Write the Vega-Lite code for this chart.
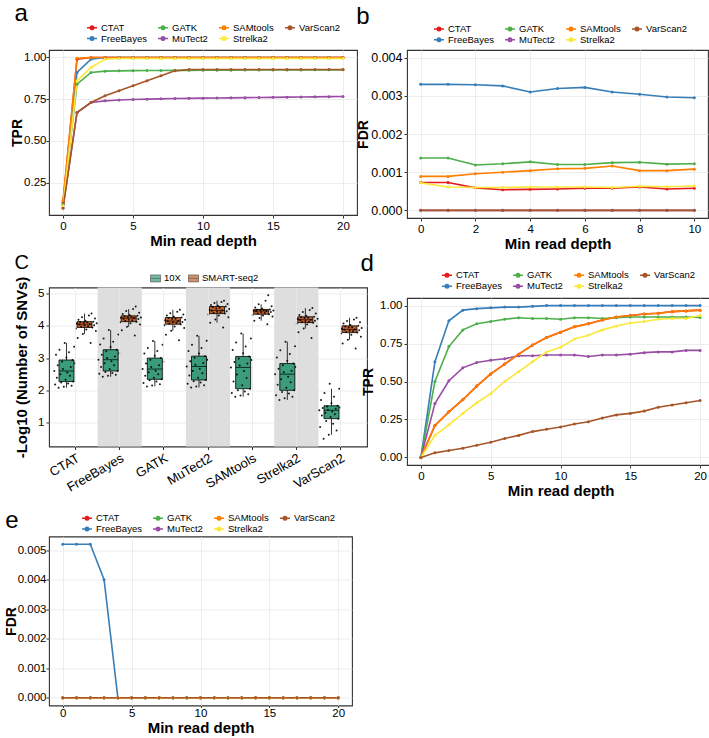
{
"$schema": "https://vega.github.io/schema/vega-lite/v6.json",
"padding": {"left": 3, "top": 1, "right": 0, "bottom": 0},
"config": {
  "font": "Liberation Sans",
  "view": {"stroke": "#333333", "strokeWidth": 1.1},
  "axis": {"domain": false, "grid": true, "gridColor": "#e8e8e8", "gridWidth": 0.8, "tickColor": "#333333", "tickSize": 3, "labelColor": "#000000", "labelFontSize": 11.5, "labelFont": "Liberation Sans", "titleFont": "Liberation Sans", "titleFontWeight": "bold", "titleColor": "#000000", "labelPadding": 2, "titlePadding": 3},
  "axisX": {"titleFontSize": 15, "titlePadding": 2},
  "axisY": {"titleFontSize": 14},
  "legend": {"labelFontSize": 9.5, "labelColor": "#000000", "labelFont": "Liberation Sans"},
  "title": {"fontWeight": "normal", "color": "#000000", "anchor": "start", "fontSize": 24, "font": "Liberation Sans"}
},
"datasets": {
"tprA": [
{"tool":"CTAT","d":0,"v":0.13},{"tool":"CTAT","d":1,"v":0.99},{"tool":"CTAT","d":2,"v":1},{"tool":"CTAT","d":3,"v":1},{"tool":"CTAT","d":4,"v":1},{"tool":"CTAT","d":5,"v":1},{"tool":"CTAT","d":6,"v":1},{"tool":"CTAT","d":7,"v":1},{"tool":"CTAT","d":8,"v":1},{"tool":"CTAT","d":9,"v":1},{"tool":"CTAT","d":10,"v":1},{"tool":"CTAT","d":11,"v":1},{"tool":"CTAT","d":12,"v":1},{"tool":"CTAT","d":13,"v":1},{"tool":"CTAT","d":14,"v":1},{"tool":"CTAT","d":15,"v":1},{"tool":"CTAT","d":16,"v":1},{"tool":"CTAT","d":17,"v":1},{"tool":"CTAT","d":18,"v":1},{"tool":"CTAT","d":19,"v":1},{"tool":"CTAT","d":20,"v":1},
{"tool":"FreeBayes","d":0,"v":0.12},{"tool":"FreeBayes","d":1,"v":0.91},{"tool":"FreeBayes","d":2,"v":0.99},{"tool":"FreeBayes","d":3,"v":1},{"tool":"FreeBayes","d":4,"v":1},{"tool":"FreeBayes","d":5,"v":1},{"tool":"FreeBayes","d":6,"v":1},{"tool":"FreeBayes","d":7,"v":1},{"tool":"FreeBayes","d":8,"v":1},{"tool":"FreeBayes","d":9,"v":1},{"tool":"FreeBayes","d":10,"v":1},{"tool":"FreeBayes","d":11,"v":1},{"tool":"FreeBayes","d":12,"v":1},{"tool":"FreeBayes","d":13,"v":1},{"tool":"FreeBayes","d":14,"v":1},{"tool":"FreeBayes","d":15,"v":1},{"tool":"FreeBayes","d":16,"v":1},{"tool":"FreeBayes","d":17,"v":1},{"tool":"FreeBayes","d":18,"v":1},{"tool":"FreeBayes","d":19,"v":1},{"tool":"FreeBayes","d":20,"v":1},
{"tool":"GATK","d":0,"v":0.12},{"tool":"GATK","d":1,"v":0.84},{"tool":"GATK","d":2,"v":0.91},{"tool":"GATK","d":3,"v":0.918},{"tool":"GATK","d":4,"v":0.92},{"tool":"GATK","d":5,"v":0.921},{"tool":"GATK","d":6,"v":0.922},{"tool":"GATK","d":7,"v":0.922},{"tool":"GATK","d":8,"v":0.923},{"tool":"GATK","d":9,"v":0.923},{"tool":"GATK","d":10,"v":0.924},{"tool":"GATK","d":11,"v":0.924},{"tool":"GATK","d":12,"v":0.924},{"tool":"GATK","d":13,"v":0.925},{"tool":"GATK","d":14,"v":0.925},{"tool":"GATK","d":15,"v":0.925},{"tool":"GATK","d":16,"v":0.925},{"tool":"GATK","d":17,"v":0.925},{"tool":"GATK","d":18,"v":0.926},{"tool":"GATK","d":19,"v":0.926},{"tool":"GATK","d":20,"v":0.926},
{"tool":"MuTect2","d":0,"v":0.10},{"tool":"MuTect2","d":1,"v":0.67},{"tool":"MuTect2","d":2,"v":0.73},{"tool":"MuTect2","d":3,"v":0.74},{"tool":"MuTect2","d":4,"v":0.745},{"tool":"MuTect2","d":5,"v":0.748},{"tool":"MuTect2","d":6,"v":0.75},{"tool":"MuTect2","d":7,"v":0.752},{"tool":"MuTect2","d":8,"v":0.754},{"tool":"MuTect2","d":9,"v":0.755},{"tool":"MuTect2","d":10,"v":0.756},{"tool":"MuTect2","d":11,"v":0.757},{"tool":"MuTect2","d":12,"v":0.758},{"tool":"MuTect2","d":13,"v":0.759},{"tool":"MuTect2","d":14,"v":0.76},{"tool":"MuTect2","d":15,"v":0.761},{"tool":"MuTect2","d":16,"v":0.762},{"tool":"MuTect2","d":17,"v":0.763},{"tool":"MuTect2","d":18,"v":0.764},{"tool":"MuTect2","d":19,"v":0.765},{"tool":"MuTect2","d":20,"v":0.766},
{"tool":"SAMtools","d":0,"v":0.14},{"tool":"SAMtools","d":1,"v":0.995},{"tool":"SAMtools","d":2,"v":1},{"tool":"SAMtools","d":3,"v":1},{"tool":"SAMtools","d":4,"v":1},{"tool":"SAMtools","d":5,"v":1},{"tool":"SAMtools","d":6,"v":1},{"tool":"SAMtools","d":7,"v":1},{"tool":"SAMtools","d":8,"v":1},{"tool":"SAMtools","d":9,"v":1},{"tool":"SAMtools","d":10,"v":1},{"tool":"SAMtools","d":11,"v":1},{"tool":"SAMtools","d":12,"v":1},{"tool":"SAMtools","d":13,"v":1},{"tool":"SAMtools","d":14,"v":1},{"tool":"SAMtools","d":15,"v":1},{"tool":"SAMtools","d":16,"v":1},{"tool":"SAMtools","d":17,"v":1},{"tool":"SAMtools","d":18,"v":1},{"tool":"SAMtools","d":19,"v":1},{"tool":"SAMtools","d":20,"v":1},
{"tool":"Strelka2","d":0,"v":0.11},{"tool":"Strelka2","d":1,"v":0.86},{"tool":"Strelka2","d":2,"v":0.94},{"tool":"Strelka2","d":3,"v":0.99},{"tool":"Strelka2","d":4,"v":0.994},{"tool":"Strelka2","d":5,"v":0.994},{"tool":"Strelka2","d":6,"v":0.994},{"tool":"Strelka2","d":7,"v":0.994},{"tool":"Strelka2","d":8,"v":0.994},{"tool":"Strelka2","d":9,"v":0.994},{"tool":"Strelka2","d":10,"v":0.994},{"tool":"Strelka2","d":11,"v":0.994},{"tool":"Strelka2","d":12,"v":0.994},{"tool":"Strelka2","d":13,"v":0.994},{"tool":"Strelka2","d":14,"v":0.994},{"tool":"Strelka2","d":15,"v":0.994},{"tool":"Strelka2","d":16,"v":0.994},{"tool":"Strelka2","d":17,"v":0.994},{"tool":"Strelka2","d":18,"v":0.994},{"tool":"Strelka2","d":19,"v":0.994},{"tool":"Strelka2","d":20,"v":0.994},
{"tool":"VarScan2","d":0,"v":0.095},{"tool":"VarScan2","d":1,"v":0.67},{"tool":"VarScan2","d":2,"v":0.73},{"tool":"VarScan2","d":3,"v":0.77},{"tool":"VarScan2","d":4,"v":0.80},{"tool":"VarScan2","d":5,"v":0.83},{"tool":"VarScan2","d":6,"v":0.86},{"tool":"VarScan2","d":7,"v":0.89},{"tool":"VarScan2","d":8,"v":0.92},{"tool":"VarScan2","d":9,"v":0.928},{"tool":"VarScan2","d":10,"v":0.928},{"tool":"VarScan2","d":11,"v":0.928},{"tool":"VarScan2","d":12,"v":0.928},{"tool":"VarScan2","d":13,"v":0.928},{"tool":"VarScan2","d":14,"v":0.928},{"tool":"VarScan2","d":15,"v":0.928},{"tool":"VarScan2","d":16,"v":0.928},{"tool":"VarScan2","d":17,"v":0.928},{"tool":"VarScan2","d":18,"v":0.928},{"tool":"VarScan2","d":19,"v":0.928},{"tool":"VarScan2","d":20,"v":0.928}
],
"fdrB": [
{"tool":"CTAT","d":0,"v":0.00073},{"tool":"CTAT","d":1,"v":0.00073},{"tool":"CTAT","d":2,"v":0.00059},{"tool":"CTAT","d":3,"v":0.00054},{"tool":"CTAT","d":4,"v":0.00055},{"tool":"CTAT","d":5,"v":0.00056},{"tool":"CTAT","d":6,"v":0.00058},{"tool":"CTAT","d":7,"v":0.00058},{"tool":"CTAT","d":8,"v":0.00061},{"tool":"CTAT","d":9,"v":0.00056},{"tool":"CTAT","d":10,"v":0.00058},
{"tool":"FreeBayes","d":0,"v":0.0033},{"tool":"FreeBayes","d":1,"v":0.0033},{"tool":"FreeBayes","d":2,"v":0.00329},{"tool":"FreeBayes","d":3,"v":0.00326},{"tool":"FreeBayes","d":4,"v":0.0031},{"tool":"FreeBayes","d":5,"v":0.00319},{"tool":"FreeBayes","d":6,"v":0.00322},{"tool":"FreeBayes","d":7,"v":0.0031},{"tool":"FreeBayes","d":8,"v":0.00304},{"tool":"FreeBayes","d":9,"v":0.00297},{"tool":"FreeBayes","d":10,"v":0.00295},
{"tool":"GATK","d":0,"v":0.00137},{"tool":"GATK","d":1,"v":0.00137},{"tool":"GATK","d":2,"v":0.00119},{"tool":"GATK","d":3,"v":0.00122},{"tool":"GATK","d":4,"v":0.00127},{"tool":"GATK","d":5,"v":0.0012},{"tool":"GATK","d":6,"v":0.0012},{"tool":"GATK","d":7,"v":0.00125},{"tool":"GATK","d":8,"v":0.00126},{"tool":"GATK","d":9,"v":0.00121},{"tool":"GATK","d":10,"v":0.00122},
{"tool":"MuTect2","d":0,"v":0},{"tool":"MuTect2","d":1,"v":0},{"tool":"MuTect2","d":2,"v":0},{"tool":"MuTect2","d":3,"v":0},{"tool":"MuTect2","d":4,"v":0},{"tool":"MuTect2","d":5,"v":0},{"tool":"MuTect2","d":6,"v":0},{"tool":"MuTect2","d":7,"v":0},{"tool":"MuTect2","d":8,"v":0},{"tool":"MuTect2","d":9,"v":0},{"tool":"MuTect2","d":10,"v":0},
{"tool":"SAMtools","d":0,"v":0.00089},{"tool":"SAMtools","d":1,"v":0.00089},{"tool":"SAMtools","d":2,"v":0.00096},{"tool":"SAMtools","d":3,"v":0.001},{"tool":"SAMtools","d":4,"v":0.00104},{"tool":"SAMtools","d":5,"v":0.00109},{"tool":"SAMtools","d":6,"v":0.0011},{"tool":"SAMtools","d":7,"v":0.00116},{"tool":"SAMtools","d":8,"v":0.00104},{"tool":"SAMtools","d":9,"v":0.00104},{"tool":"SAMtools","d":10,"v":0.00108},
{"tool":"Strelka2","d":0,"v":0.00072},{"tool":"Strelka2","d":1,"v":0.00061},{"tool":"Strelka2","d":2,"v":0.0006},{"tool":"Strelka2","d":3,"v":0.0006},{"tool":"Strelka2","d":4,"v":0.00061},{"tool":"Strelka2","d":5,"v":0.00061},{"tool":"Strelka2","d":6,"v":0.00061},{"tool":"Strelka2","d":7,"v":0.0006},{"tool":"Strelka2","d":8,"v":0.00063},{"tool":"Strelka2","d":9,"v":0.00062},{"tool":"Strelka2","d":10,"v":0.00064},
{"tool":"VarScan2","d":0,"v":0},{"tool":"VarScan2","d":1,"v":0},{"tool":"VarScan2","d":2,"v":0},{"tool":"VarScan2","d":3,"v":0},{"tool":"VarScan2","d":4,"v":0},{"tool":"VarScan2","d":5,"v":0},{"tool":"VarScan2","d":6,"v":0},{"tool":"VarScan2","d":7,"v":0},{"tool":"VarScan2","d":8,"v":0},{"tool":"VarScan2","d":9,"v":0},{"tool":"VarScan2","d":10,"v":0}
],
"tprD": [
{"tool":"CTAT","d":0,"v":0},{"tool":"CTAT","d":1,"v":0.21},{"tool":"CTAT","d":2,"v":0.3},{"tool":"CTAT","d":3,"v":0.38},{"tool":"CTAT","d":4,"v":0.47},{"tool":"CTAT","d":5,"v":0.55},{"tool":"CTAT","d":6,"v":0.615},{"tool":"CTAT","d":7,"v":0.68},{"tool":"CTAT","d":8,"v":0.74},{"tool":"CTAT","d":9,"v":0.79},{"tool":"CTAT","d":10,"v":0.825},{"tool":"CTAT","d":11,"v":0.86},{"tool":"CTAT","d":12,"v":0.88},{"tool":"CTAT","d":13,"v":0.905},{"tool":"CTAT","d":14,"v":0.925},{"tool":"CTAT","d":15,"v":0.935},{"tool":"CTAT","d":16,"v":0.945},{"tool":"CTAT","d":17,"v":0.95},{"tool":"CTAT","d":18,"v":0.96},{"tool":"CTAT","d":19,"v":0.965},{"tool":"CTAT","d":20,"v":0.97},
{"tool":"FreeBayes","d":0,"v":0},{"tool":"FreeBayes","d":1,"v":0.63},{"tool":"FreeBayes","d":2,"v":0.9},{"tool":"FreeBayes","d":3,"v":0.97},{"tool":"FreeBayes","d":4,"v":0.98},{"tool":"FreeBayes","d":5,"v":0.985},{"tool":"FreeBayes","d":6,"v":0.99},{"tool":"FreeBayes","d":7,"v":0.99},{"tool":"FreeBayes","d":8,"v":0.995},{"tool":"FreeBayes","d":9,"v":1},{"tool":"FreeBayes","d":10,"v":1},{"tool":"FreeBayes","d":11,"v":1},{"tool":"FreeBayes","d":12,"v":1},{"tool":"FreeBayes","d":13,"v":1},{"tool":"FreeBayes","d":14,"v":1},{"tool":"FreeBayes","d":15,"v":1},{"tool":"FreeBayes","d":16,"v":1},{"tool":"FreeBayes","d":17,"v":1},{"tool":"FreeBayes","d":18,"v":1},{"tool":"FreeBayes","d":19,"v":1},{"tool":"FreeBayes","d":20,"v":1},
{"tool":"GATK","d":0,"v":0},{"tool":"GATK","d":1,"v":0.5},{"tool":"GATK","d":2,"v":0.73},{"tool":"GATK","d":3,"v":0.84},{"tool":"GATK","d":4,"v":0.88},{"tool":"GATK","d":5,"v":0.895},{"tool":"GATK","d":6,"v":0.91},{"tool":"GATK","d":7,"v":0.92},{"tool":"GATK","d":8,"v":0.915},{"tool":"GATK","d":9,"v":0.915},{"tool":"GATK","d":10,"v":0.91},{"tool":"GATK","d":11,"v":0.92},{"tool":"GATK","d":12,"v":0.92},{"tool":"GATK","d":13,"v":0.915},{"tool":"GATK","d":14,"v":0.92},{"tool":"GATK","d":15,"v":0.925},{"tool":"GATK","d":16,"v":0.925},{"tool":"GATK","d":17,"v":0.925},{"tool":"GATK","d":18,"v":0.925},{"tool":"GATK","d":19,"v":0.925},{"tool":"GATK","d":20,"v":0.922},
{"tool":"MuTect2","d":0,"v":0},{"tool":"MuTect2","d":1,"v":0.355},{"tool":"MuTect2","d":2,"v":0.505},{"tool":"MuTect2","d":3,"v":0.59},{"tool":"MuTect2","d":4,"v":0.625},{"tool":"MuTect2","d":5,"v":0.64},{"tool":"MuTect2","d":6,"v":0.65},{"tool":"MuTect2","d":7,"v":0.67},{"tool":"MuTect2","d":8,"v":0.67},{"tool":"MuTect2","d":9,"v":0.675},{"tool":"MuTect2","d":10,"v":0.675},{"tool":"MuTect2","d":11,"v":0.675},{"tool":"MuTect2","d":12,"v":0.665},{"tool":"MuTect2","d":13,"v":0.675},{"tool":"MuTect2","d":14,"v":0.675},{"tool":"MuTect2","d":15,"v":0.68},{"tool":"MuTect2","d":16,"v":0.69},{"tool":"MuTect2","d":17,"v":0.695},{"tool":"MuTect2","d":18,"v":0.695},{"tool":"MuTect2","d":19,"v":0.705},{"tool":"MuTect2","d":20,"v":0.705},
{"tool":"SAMtools","d":0,"v":0},{"tool":"SAMtools","d":1,"v":0.21},{"tool":"SAMtools","d":2,"v":0.3},{"tool":"SAMtools","d":3,"v":0.38},{"tool":"SAMtools","d":4,"v":0.47},{"tool":"SAMtools","d":5,"v":0.55},{"tool":"SAMtools","d":6,"v":0.615},{"tool":"SAMtools","d":7,"v":0.68},{"tool":"SAMtools","d":8,"v":0.74},{"tool":"SAMtools","d":9,"v":0.79},{"tool":"SAMtools","d":10,"v":0.825},{"tool":"SAMtools","d":11,"v":0.86},{"tool":"SAMtools","d":12,"v":0.88},{"tool":"SAMtools","d":13,"v":0.905},{"tool":"SAMtools","d":14,"v":0.925},{"tool":"SAMtools","d":15,"v":0.935},{"tool":"SAMtools","d":16,"v":0.945},{"tool":"SAMtools","d":17,"v":0.95},{"tool":"SAMtools","d":18,"v":0.96},{"tool":"SAMtools","d":19,"v":0.965},{"tool":"SAMtools","d":20,"v":0.97},
{"tool":"Strelka2","d":0,"v":0},{"tool":"Strelka2","d":1,"v":0.145},{"tool":"Strelka2","d":2,"v":0.215},{"tool":"Strelka2","d":3,"v":0.29},{"tool":"Strelka2","d":4,"v":0.36},{"tool":"Strelka2","d":5,"v":0.42},{"tool":"Strelka2","d":6,"v":0.5},{"tool":"Strelka2","d":7,"v":0.565},{"tool":"Strelka2","d":8,"v":0.63},{"tool":"Strelka2","d":9,"v":0.695},{"tool":"Strelka2","d":10,"v":0.725},{"tool":"Strelka2","d":11,"v":0.78},{"tool":"Strelka2","d":12,"v":0.805},{"tool":"Strelka2","d":13,"v":0.84},{"tool":"Strelka2","d":14,"v":0.865},{"tool":"Strelka2","d":15,"v":0.885},{"tool":"Strelka2","d":16,"v":0.895},{"tool":"Strelka2","d":17,"v":0.91},{"tool":"Strelka2","d":18,"v":0.915},{"tool":"Strelka2","d":19,"v":0.915},{"tool":"Strelka2","d":20,"v":0.935},
{"tool":"VarScan2","d":0,"v":0},{"tool":"VarScan2","d":1,"v":0.03},{"tool":"VarScan2","d":2,"v":0.045},{"tool":"VarScan2","d":3,"v":0.06},{"tool":"VarScan2","d":4,"v":0.08},{"tool":"VarScan2","d":5,"v":0.1},{"tool":"VarScan2","d":6,"v":0.125},{"tool":"VarScan2","d":7,"v":0.145},{"tool":"VarScan2","d":8,"v":0.17},{"tool":"VarScan2","d":9,"v":0.185},{"tool":"VarScan2","d":10,"v":0.2},{"tool":"VarScan2","d":11,"v":0.22},{"tool":"VarScan2","d":12,"v":0.235},{"tool":"VarScan2","d":13,"v":0.26},{"tool":"VarScan2","d":14,"v":0.28},{"tool":"VarScan2","d":15,"v":0.29},{"tool":"VarScan2","d":16,"v":0.305},{"tool":"VarScan2","d":17,"v":0.33},{"tool":"VarScan2","d":18,"v":0.345},{"tool":"VarScan2","d":19,"v":0.36},{"tool":"VarScan2","d":20,"v":0.375}
],
"fdrE": [
{"tool":"CTAT","d":0,"v":0},{"tool":"CTAT","d":1,"v":0},{"tool":"CTAT","d":2,"v":0},{"tool":"CTAT","d":3,"v":0},{"tool":"CTAT","d":4,"v":0},{"tool":"CTAT","d":5,"v":0},{"tool":"CTAT","d":6,"v":0},{"tool":"CTAT","d":7,"v":0},{"tool":"CTAT","d":8,"v":0},{"tool":"CTAT","d":9,"v":0},{"tool":"CTAT","d":10,"v":0},{"tool":"CTAT","d":11,"v":0},{"tool":"CTAT","d":12,"v":0},{"tool":"CTAT","d":13,"v":0},{"tool":"CTAT","d":14,"v":0},{"tool":"CTAT","d":15,"v":0},{"tool":"CTAT","d":16,"v":0},{"tool":"CTAT","d":17,"v":0},{"tool":"CTAT","d":18,"v":0},{"tool":"CTAT","d":19,"v":0},{"tool":"CTAT","d":20,"v":0},
{"tool":"FreeBayes","d":0,"v":0.0052},{"tool":"FreeBayes","d":1,"v":0.0052},{"tool":"FreeBayes","d":2,"v":0.0052},{"tool":"FreeBayes","d":3,"v":0.004},{"tool":"FreeBayes","d":4,"v":0},{"tool":"FreeBayes","d":5,"v":0},{"tool":"FreeBayes","d":6,"v":0},{"tool":"FreeBayes","d":7,"v":0},{"tool":"FreeBayes","d":8,"v":0},{"tool":"FreeBayes","d":9,"v":0},{"tool":"FreeBayes","d":10,"v":0},{"tool":"FreeBayes","d":11,"v":0},{"tool":"FreeBayes","d":12,"v":0},{"tool":"FreeBayes","d":13,"v":0},{"tool":"FreeBayes","d":14,"v":0},{"tool":"FreeBayes","d":15,"v":0},{"tool":"FreeBayes","d":16,"v":0},{"tool":"FreeBayes","d":17,"v":0},{"tool":"FreeBayes","d":18,"v":0},{"tool":"FreeBayes","d":19,"v":0},{"tool":"FreeBayes","d":20,"v":0},
{"tool":"GATK","d":0,"v":0},{"tool":"GATK","d":1,"v":0},{"tool":"GATK","d":2,"v":0},{"tool":"GATK","d":3,"v":0},{"tool":"GATK","d":4,"v":0},{"tool":"GATK","d":5,"v":0},{"tool":"GATK","d":6,"v":0},{"tool":"GATK","d":7,"v":0},{"tool":"GATK","d":8,"v":0},{"tool":"GATK","d":9,"v":0},{"tool":"GATK","d":10,"v":0},{"tool":"GATK","d":11,"v":0},{"tool":"GATK","d":12,"v":0},{"tool":"GATK","d":13,"v":0},{"tool":"GATK","d":14,"v":0},{"tool":"GATK","d":15,"v":0},{"tool":"GATK","d":16,"v":0},{"tool":"GATK","d":17,"v":0},{"tool":"GATK","d":18,"v":0},{"tool":"GATK","d":19,"v":0},{"tool":"GATK","d":20,"v":0},
{"tool":"MuTect2","d":0,"v":0},{"tool":"MuTect2","d":1,"v":0},{"tool":"MuTect2","d":2,"v":0},{"tool":"MuTect2","d":3,"v":0},{"tool":"MuTect2","d":4,"v":0},{"tool":"MuTect2","d":5,"v":0},{"tool":"MuTect2","d":6,"v":0},{"tool":"MuTect2","d":7,"v":0},{"tool":"MuTect2","d":8,"v":0},{"tool":"MuTect2","d":9,"v":0},{"tool":"MuTect2","d":10,"v":0},{"tool":"MuTect2","d":11,"v":0},{"tool":"MuTect2","d":12,"v":0},{"tool":"MuTect2","d":13,"v":0},{"tool":"MuTect2","d":14,"v":0},{"tool":"MuTect2","d":15,"v":0},{"tool":"MuTect2","d":16,"v":0},{"tool":"MuTect2","d":17,"v":0},{"tool":"MuTect2","d":18,"v":0},{"tool":"MuTect2","d":19,"v":0},{"tool":"MuTect2","d":20,"v":0},
{"tool":"SAMtools","d":0,"v":0},{"tool":"SAMtools","d":1,"v":0},{"tool":"SAMtools","d":2,"v":0},{"tool":"SAMtools","d":3,"v":0},{"tool":"SAMtools","d":4,"v":0},{"tool":"SAMtools","d":5,"v":0},{"tool":"SAMtools","d":6,"v":0},{"tool":"SAMtools","d":7,"v":0},{"tool":"SAMtools","d":8,"v":0},{"tool":"SAMtools","d":9,"v":0},{"tool":"SAMtools","d":10,"v":0},{"tool":"SAMtools","d":11,"v":0},{"tool":"SAMtools","d":12,"v":0},{"tool":"SAMtools","d":13,"v":0},{"tool":"SAMtools","d":14,"v":0},{"tool":"SAMtools","d":15,"v":0},{"tool":"SAMtools","d":16,"v":0},{"tool":"SAMtools","d":17,"v":0},{"tool":"SAMtools","d":18,"v":0},{"tool":"SAMtools","d":19,"v":0},{"tool":"SAMtools","d":20,"v":0},
{"tool":"Strelka2","d":0,"v":0},{"tool":"Strelka2","d":1,"v":0},{"tool":"Strelka2","d":2,"v":0},{"tool":"Strelka2","d":3,"v":0},{"tool":"Strelka2","d":4,"v":0},{"tool":"Strelka2","d":5,"v":0},{"tool":"Strelka2","d":6,"v":0},{"tool":"Strelka2","d":7,"v":0},{"tool":"Strelka2","d":8,"v":0},{"tool":"Strelka2","d":9,"v":0},{"tool":"Strelka2","d":10,"v":0},{"tool":"Strelka2","d":11,"v":0},{"tool":"Strelka2","d":12,"v":0},{"tool":"Strelka2","d":13,"v":0},{"tool":"Strelka2","d":14,"v":0},{"tool":"Strelka2","d":15,"v":0},{"tool":"Strelka2","d":16,"v":0},{"tool":"Strelka2","d":17,"v":0},{"tool":"Strelka2","d":18,"v":0},{"tool":"Strelka2","d":19,"v":0},{"tool":"Strelka2","d":20,"v":0},
{"tool":"VarScan2","d":0,"v":0},{"tool":"VarScan2","d":1,"v":0},{"tool":"VarScan2","d":2,"v":0},{"tool":"VarScan2","d":3,"v":0},{"tool":"VarScan2","d":4,"v":0},{"tool":"VarScan2","d":5,"v":0},{"tool":"VarScan2","d":6,"v":0},{"tool":"VarScan2","d":7,"v":0},{"tool":"VarScan2","d":8,"v":0},{"tool":"VarScan2","d":9,"v":0},{"tool":"VarScan2","d":10,"v":0},{"tool":"VarScan2","d":11,"v":0},{"tool":"VarScan2","d":12,"v":0},{"tool":"VarScan2","d":13,"v":0},{"tool":"VarScan2","d":14,"v":0},{"tool":"VarScan2","d":15,"v":0},{"tool":"VarScan2","d":16,"v":0},{"tool":"VarScan2","d":17,"v":0},{"tool":"VarScan2","d":18,"v":0},{"tool":"VarScan2","d":19,"v":0},{"tool":"VarScan2","d":20,"v":0}
],
"shade": [{"t":"FreeBayes"},{"t":"MuTect2"},{"t":"Strelka2"}],
"snv": [
{"t":"CTAT","p":"10X","k":"a06","v":2.08},{"t":"CTAT","p":"10X","k":"a12","v":2.11},{"t":"CTAT","p":"10X","k":"a21","v":2.14},{"t":"CTAT","p":"10X","k":"a02","v":2.18},{"t":"CTAT","p":"10X","k":"a17","v":2.21},{"t":"CTAT","p":"10X","k":"a09","v":2.24},{"t":"CTAT","p":"10X","k":"a23","v":2.27},{"t":"CTAT","p":"10X","k":"a14","v":2.33},{"t":"CTAT","p":"10X","k":"a04","v":2.39},{"t":"CTAT","p":"10X","k":"a19","v":2.45},{"t":"CTAT","p":"10X","k":"a08","v":2.5},{"t":"CTAT","p":"10X","k":"a16","v":2.55},{"t":"CTAT","p":"10X","k":"a01","v":2.6},{"t":"CTAT","p":"10X","k":"a11","v":2.66},{"t":"CTAT","p":"10X","k":"a20","v":2.72},{"t":"CTAT","p":"10X","k":"a05","v":2.78},{"t":"CTAT","p":"10X","k":"a25","v":2.84},{"t":"CTAT","p":"10X","k":"a10","v":2.89},{"t":"CTAT","p":"10X","k":"a22","v":2.94},{"t":"CTAT","p":"10X","k":"a15","v":3.02},{"t":"CTAT","p":"10X","k":"a03","v":3.1},{"t":"CTAT","p":"10X","k":"a18","v":3.18},{"t":"CTAT","p":"10X","k":"a07","v":3.26},{"t":"CTAT","p":"10X","k":"a24","v":3.35},{"t":"CTAT","p":"10X","k":"a13","v":3.47},
{"t":"CTAT","p":"SMART-seq2","k":"b18","v":3.47},{"t":"CTAT","p":"SMART-seq2","k":"b03","v":3.62},{"t":"CTAT","p":"SMART-seq2","k":"b09","v":3.75},{"t":"CTAT","p":"SMART-seq2","k":"b24","v":3.84},{"t":"CTAT","p":"SMART-seq2","k":"b13","v":3.89},{"t":"CTAT","p":"SMART-seq2","k":"b01","v":3.92},{"t":"CTAT","p":"SMART-seq2","k":"b20","v":3.95},{"t":"CTAT","p":"SMART-seq2","k":"b07","v":3.97},{"t":"CTAT","p":"SMART-seq2","k":"b15","v":3.99},{"t":"CTAT","p":"SMART-seq2","k":"b11","v":4.01},{"t":"CTAT","p":"SMART-seq2","k":"b22","v":4.02},{"t":"CTAT","p":"SMART-seq2","k":"b05","v":4.04},{"t":"CTAT","p":"SMART-seq2","k":"b17","v":4.05},{"t":"CTAT","p":"SMART-seq2","k":"b02","v":4.07},{"t":"CTAT","p":"SMART-seq2","k":"b25","v":4.08},{"t":"CTAT","p":"SMART-seq2","k":"b10","v":4.1},{"t":"CTAT","p":"SMART-seq2","k":"b14","v":4.11},{"t":"CTAT","p":"SMART-seq2","k":"b06","v":4.12},{"t":"CTAT","p":"SMART-seq2","k":"b21","v":4.13},{"t":"CTAT","p":"SMART-seq2","k":"b12","v":4.16},{"t":"CTAT","p":"SMART-seq2","k":"b04","v":4.19},{"t":"CTAT","p":"SMART-seq2","k":"b23","v":4.23},{"t":"CTAT","p":"SMART-seq2","k":"b08","v":4.27},{"t":"CTAT","p":"SMART-seq2","k":"b16","v":4.32},{"t":"CTAT","p":"SMART-seq2","k":"b19","v":4.38},
{"t":"FreeBayes","p":"10X","k":"a06","v":2.42},{"t":"FreeBayes","p":"10X","k":"a12","v":2.45},{"t":"FreeBayes","p":"10X","k":"a21","v":2.48},{"t":"FreeBayes","p":"10X","k":"a02","v":2.51},{"t":"FreeBayes","p":"10X","k":"a17","v":2.54},{"t":"FreeBayes","p":"10X","k":"a09","v":2.57},{"t":"FreeBayes","p":"10X","k":"a23","v":2.6},{"t":"FreeBayes","p":"10X","k":"a14","v":2.66},{"t":"FreeBayes","p":"10X","k":"a04","v":2.72},{"t":"FreeBayes","p":"10X","k":"a19","v":2.78},{"t":"FreeBayes","p":"10X","k":"a08","v":2.84},{"t":"FreeBayes","p":"10X","k":"a16","v":2.9},{"t":"FreeBayes","p":"10X","k":"a01","v":2.95},{"t":"FreeBayes","p":"10X","k":"a11","v":3.0},{"t":"FreeBayes","p":"10X","k":"a20","v":3.05},{"t":"FreeBayes","p":"10X","k":"a05","v":3.1},{"t":"FreeBayes","p":"10X","k":"a25","v":3.15},{"t":"FreeBayes","p":"10X","k":"a10","v":3.21},{"t":"FreeBayes","p":"10X","k":"a22","v":3.26},{"t":"FreeBayes","p":"10X","k":"a15","v":3.34},{"t":"FreeBayes","p":"10X","k":"a03","v":3.42},{"t":"FreeBayes","p":"10X","k":"a18","v":3.51},{"t":"FreeBayes","p":"10X","k":"a07","v":3.61},{"t":"FreeBayes","p":"10X","k":"a24","v":3.73},{"t":"FreeBayes","p":"10X","k":"a13","v":3.87},
{"t":"FreeBayes","p":"SMART-seq2","k":"b18","v":3.7},{"t":"FreeBayes","p":"SMART-seq2","k":"b03","v":3.86},{"t":"FreeBayes","p":"SMART-seq2","k":"b09","v":3.97},{"t":"FreeBayes","p":"SMART-seq2","k":"b24","v":4.04},{"t":"FreeBayes","p":"SMART-seq2","k":"b13","v":4.08},{"t":"FreeBayes","p":"SMART-seq2","k":"b01","v":4.11},{"t":"FreeBayes","p":"SMART-seq2","k":"b20","v":4.13},{"t":"FreeBayes","p":"SMART-seq2","k":"b07","v":4.15},{"t":"FreeBayes","p":"SMART-seq2","k":"b15","v":4.17},{"t":"FreeBayes","p":"SMART-seq2","k":"b11","v":4.19},{"t":"FreeBayes","p":"SMART-seq2","k":"b22","v":4.21},{"t":"FreeBayes","p":"SMART-seq2","k":"b05","v":4.22},{"t":"FreeBayes","p":"SMART-seq2","k":"b17","v":4.24},{"t":"FreeBayes","p":"SMART-seq2","k":"b02","v":4.25},{"t":"FreeBayes","p":"SMART-seq2","k":"b25","v":4.26},{"t":"FreeBayes","p":"SMART-seq2","k":"b10","v":4.27},{"t":"FreeBayes","p":"SMART-seq2","k":"b14","v":4.28},{"t":"FreeBayes","p":"SMART-seq2","k":"b06","v":4.3},{"t":"FreeBayes","p":"SMART-seq2","k":"b21","v":4.31},{"t":"FreeBayes","p":"SMART-seq2","k":"b12","v":4.34},{"t":"FreeBayes","p":"SMART-seq2","k":"b04","v":4.37},{"t":"FreeBayes","p":"SMART-seq2","k":"b23","v":4.41},{"t":"FreeBayes","p":"SMART-seq2","k":"b08","v":4.46},{"t":"FreeBayes","p":"SMART-seq2","k":"b16","v":4.52},{"t":"FreeBayes","p":"SMART-seq2","k":"b19","v":4.6},
{"t":"GATK","p":"10X","k":"a06","v":2.12},{"t":"GATK","p":"10X","k":"a12","v":2.15},{"t":"GATK","p":"10X","k":"a21","v":2.19},{"t":"GATK","p":"10X","k":"a02","v":2.23},{"t":"GATK","p":"10X","k":"a17","v":2.27},{"t":"GATK","p":"10X","k":"a09","v":2.31},{"t":"GATK","p":"10X","k":"a23","v":2.34},{"t":"GATK","p":"10X","k":"a14","v":2.39},{"t":"GATK","p":"10X","k":"a04","v":2.45},{"t":"GATK","p":"10X","k":"a19","v":2.5},{"t":"GATK","p":"10X","k":"a08","v":2.56},{"t":"GATK","p":"10X","k":"a16","v":2.61},{"t":"GATK","p":"10X","k":"a01","v":2.66},{"t":"GATK","p":"10X","k":"a11","v":2.72},{"t":"GATK","p":"10X","k":"a20","v":2.78},{"t":"GATK","p":"10X","k":"a05","v":2.83},{"t":"GATK","p":"10X","k":"a25","v":2.89},{"t":"GATK","p":"10X","k":"a10","v":2.95},{"t":"GATK","p":"10X","k":"a22","v":3.0},{"t":"GATK","p":"10X","k":"a15","v":3.07},{"t":"GATK","p":"10X","k":"a03","v":3.14},{"t":"GATK","p":"10X","k":"a18","v":3.22},{"t":"GATK","p":"10X","k":"a07","v":3.31},{"t":"GATK","p":"10X","k":"a24","v":3.41},{"t":"GATK","p":"10X","k":"a13","v":3.53},
{"t":"GATK","p":"SMART-seq2","k":"b18","v":3.55},{"t":"GATK","p":"SMART-seq2","k":"b03","v":3.72},{"t":"GATK","p":"SMART-seq2","k":"b09","v":3.85},{"t":"GATK","p":"SMART-seq2","k":"b24","v":3.93},{"t":"GATK","p":"SMART-seq2","k":"b13","v":3.98},{"t":"GATK","p":"SMART-seq2","k":"b01","v":4.02},{"t":"GATK","p":"SMART-seq2","k":"b20","v":4.05},{"t":"GATK","p":"SMART-seq2","k":"b07","v":4.07},{"t":"GATK","p":"SMART-seq2","k":"b15","v":4.09},{"t":"GATK","p":"SMART-seq2","k":"b11","v":4.11},{"t":"GATK","p":"SMART-seq2","k":"b22","v":4.12},{"t":"GATK","p":"SMART-seq2","k":"b05","v":4.14},{"t":"GATK","p":"SMART-seq2","k":"b17","v":4.15},{"t":"GATK","p":"SMART-seq2","k":"b02","v":4.17},{"t":"GATK","p":"SMART-seq2","k":"b25","v":4.19},{"t":"GATK","p":"SMART-seq2","k":"b10","v":4.21},{"t":"GATK","p":"SMART-seq2","k":"b14","v":4.22},{"t":"GATK","p":"SMART-seq2","k":"b06","v":4.24},{"t":"GATK","p":"SMART-seq2","k":"b21","v":4.26},{"t":"GATK","p":"SMART-seq2","k":"b12","v":4.29},{"t":"GATK","p":"SMART-seq2","k":"b04","v":4.32},{"t":"GATK","p":"SMART-seq2","k":"b23","v":4.35},{"t":"GATK","p":"SMART-seq2","k":"b08","v":4.39},{"t":"GATK","p":"SMART-seq2","k":"b16","v":4.44},{"t":"GATK","p":"SMART-seq2","k":"b19","v":4.5},
{"t":"MuTect2","p":"10X","k":"a06","v":2.09},{"t":"MuTect2","p":"10X","k":"a12","v":2.12},{"t":"MuTect2","p":"10X","k":"a21","v":2.16},{"t":"MuTect2","p":"10X","k":"a02","v":2.2},{"t":"MuTect2","p":"10X","k":"a17","v":2.24},{"t":"MuTect2","p":"10X","k":"a09","v":2.28},{"t":"MuTect2","p":"10X","k":"a23","v":2.32},{"t":"MuTect2","p":"10X","k":"a14","v":2.39},{"t":"MuTect2","p":"10X","k":"a04","v":2.46},{"t":"MuTect2","p":"10X","k":"a19","v":2.53},{"t":"MuTect2","p":"10X","k":"a08","v":2.6},{"t":"MuTect2","p":"10X","k":"a16","v":2.67},{"t":"MuTect2","p":"10X","k":"a01","v":2.74},{"t":"MuTect2","p":"10X","k":"a11","v":2.79},{"t":"MuTect2","p":"10X","k":"a20","v":2.85},{"t":"MuTect2","p":"10X","k":"a05","v":2.9},{"t":"MuTect2","p":"10X","k":"a25","v":2.95},{"t":"MuTect2","p":"10X","k":"a10","v":3.01},{"t":"MuTect2","p":"10X","k":"a22","v":3.06},{"t":"MuTect2","p":"10X","k":"a15","v":3.14},{"t":"MuTect2","p":"10X","k":"a03","v":3.22},{"t":"MuTect2","p":"10X","k":"a18","v":3.31},{"t":"MuTect2","p":"10X","k":"a07","v":3.41},{"t":"MuTect2","p":"10X","k":"a24","v":3.54},{"t":"MuTect2","p":"10X","k":"a13","v":3.69},
{"t":"MuTect2","p":"SMART-seq2","k":"b18","v":3.95},{"t":"MuTect2","p":"SMART-seq2","k":"b03","v":4.1},{"t":"MuTect2","p":"SMART-seq2","k":"b09","v":4.2},{"t":"MuTect2","p":"SMART-seq2","k":"b24","v":4.27},{"t":"MuTect2","p":"SMART-seq2","k":"b13","v":4.32},{"t":"MuTect2","p":"SMART-seq2","k":"b01","v":4.35},{"t":"MuTect2","p":"SMART-seq2","k":"b20","v":4.38},{"t":"MuTect2","p":"SMART-seq2","k":"b07","v":4.4},{"t":"MuTect2","p":"SMART-seq2","k":"b15","v":4.42},{"t":"MuTect2","p":"SMART-seq2","k":"b11","v":4.44},{"t":"MuTect2","p":"SMART-seq2","k":"b22","v":4.45},{"t":"MuTect2","p":"SMART-seq2","k":"b05","v":4.47},{"t":"MuTect2","p":"SMART-seq2","k":"b17","v":4.48},{"t":"MuTect2","p":"SMART-seq2","k":"b02","v":4.5},{"t":"MuTect2","p":"SMART-seq2","k":"b25","v":4.52},{"t":"MuTect2","p":"SMART-seq2","k":"b10","v":4.54},{"t":"MuTect2","p":"SMART-seq2","k":"b14","v":4.56},{"t":"MuTect2","p":"SMART-seq2","k":"b06","v":4.58},{"t":"MuTect2","p":"SMART-seq2","k":"b21","v":4.6},{"t":"MuTect2","p":"SMART-seq2","k":"b12","v":4.62},{"t":"MuTect2","p":"SMART-seq2","k":"b04","v":4.65},{"t":"MuTect2","p":"SMART-seq2","k":"b23","v":4.68},{"t":"MuTect2","p":"SMART-seq2","k":"b08","v":4.71},{"t":"MuTect2","p":"SMART-seq2","k":"b16","v":4.74},{"t":"MuTect2","p":"SMART-seq2","k":"b19","v":4.78},
{"t":"SAMtools","p":"10X","k":"a06","v":1.8},{"t":"SAMtools","p":"10X","k":"a12","v":1.84},{"t":"SAMtools","p":"10X","k":"a21","v":1.88},{"t":"SAMtools","p":"10X","k":"a02","v":1.92},{"t":"SAMtools","p":"10X","k":"a17","v":1.96},{"t":"SAMtools","p":"10X","k":"a09","v":2.0},{"t":"SAMtools","p":"10X","k":"a23","v":2.05},{"t":"SAMtools","p":"10X","k":"a14","v":2.16},{"t":"SAMtools","p":"10X","k":"a04","v":2.27},{"t":"SAMtools","p":"10X","k":"a19","v":2.38},{"t":"SAMtools","p":"10X","k":"a08","v":2.49},{"t":"SAMtools","p":"10X","k":"a16","v":2.6},{"t":"SAMtools","p":"10X","k":"a01","v":2.71},{"t":"SAMtools","p":"10X","k":"a11","v":2.77},{"t":"SAMtools","p":"10X","k":"a20","v":2.83},{"t":"SAMtools","p":"10X","k":"a05","v":2.88},{"t":"SAMtools","p":"10X","k":"a25","v":2.94},{"t":"SAMtools","p":"10X","k":"a10","v":2.99},{"t":"SAMtools","p":"10X","k":"a22","v":3.05},{"t":"SAMtools","p":"10X","k":"a15","v":3.15},{"t":"SAMtools","p":"10X","k":"a03","v":3.25},{"t":"SAMtools","p":"10X","k":"a18","v":3.36},{"t":"SAMtools","p":"10X","k":"a07","v":3.48},{"t":"SAMtools","p":"10X","k":"a24","v":3.61},{"t":"SAMtools","p":"10X","k":"a13","v":3.76},
{"t":"SAMtools","p":"SMART-seq2","k":"b18","v":4.05},{"t":"SAMtools","p":"SMART-seq2","k":"b03","v":4.16},{"t":"SAMtools","p":"SMART-seq2","k":"b09","v":4.24},{"t":"SAMtools","p":"SMART-seq2","k":"b24","v":4.29},{"t":"SAMtools","p":"SMART-seq2","k":"b13","v":4.32},{"t":"SAMtools","p":"SMART-seq2","k":"b01","v":4.34},{"t":"SAMtools","p":"SMART-seq2","k":"b20","v":4.36},{"t":"SAMtools","p":"SMART-seq2","k":"b07","v":4.38},{"t":"SAMtools","p":"SMART-seq2","k":"b15","v":4.4},{"t":"SAMtools","p":"SMART-seq2","k":"b11","v":4.42},{"t":"SAMtools","p":"SMART-seq2","k":"b22","v":4.43},{"t":"SAMtools","p":"SMART-seq2","k":"b05","v":4.45},{"t":"SAMtools","p":"SMART-seq2","k":"b17","v":4.46},{"t":"SAMtools","p":"SMART-seq2","k":"b02","v":4.47},{"t":"SAMtools","p":"SMART-seq2","k":"b25","v":4.48},{"t":"SAMtools","p":"SMART-seq2","k":"b10","v":4.49},{"t":"SAMtools","p":"SMART-seq2","k":"b14","v":4.49},{"t":"SAMtools","p":"SMART-seq2","k":"b06","v":4.5},{"t":"SAMtools","p":"SMART-seq2","k":"b21","v":4.51},{"t":"SAMtools","p":"SMART-seq2","k":"b12","v":4.54},{"t":"SAMtools","p":"SMART-seq2","k":"b04","v":4.57},{"t":"SAMtools","p":"SMART-seq2","k":"b23","v":4.61},{"t":"SAMtools","p":"SMART-seq2","k":"b08","v":4.67},{"t":"SAMtools","p":"SMART-seq2","k":"b16","v":4.78},{"t":"SAMtools","p":"SMART-seq2","k":"b19","v":4.95},
{"t":"Strelka2","p":"10X","k":"a06","v":1.7},{"t":"Strelka2","p":"10X","k":"a12","v":1.75},{"t":"Strelka2","p":"10X","k":"a21","v":1.8},{"t":"Strelka2","p":"10X","k":"a02","v":1.85},{"t":"Strelka2","p":"10X","k":"a17","v":1.9},{"t":"Strelka2","p":"10X","k":"a09","v":1.95},{"t":"Strelka2","p":"10X","k":"a23","v":2.0},{"t":"Strelka2","p":"10X","k":"a14","v":2.08},{"t":"Strelka2","p":"10X","k":"a04","v":2.17},{"t":"Strelka2","p":"10X","k":"a19","v":2.25},{"t":"Strelka2","p":"10X","k":"a08","v":2.34},{"t":"Strelka2","p":"10X","k":"a16","v":2.42},{"t":"Strelka2","p":"10X","k":"a01","v":2.5},{"t":"Strelka2","p":"10X","k":"a11","v":2.56},{"t":"Strelka2","p":"10X","k":"a20","v":2.61},{"t":"Strelka2","p":"10X","k":"a05","v":2.67},{"t":"Strelka2","p":"10X","k":"a25","v":2.72},{"t":"Strelka2","p":"10X","k":"a10","v":2.78},{"t":"Strelka2","p":"10X","k":"a22","v":2.83},{"t":"Strelka2","p":"10X","k":"a15","v":2.92},{"t":"Strelka2","p":"10X","k":"a03","v":3.02},{"t":"Strelka2","p":"10X","k":"a18","v":3.13},{"t":"Strelka2","p":"10X","k":"a07","v":3.24},{"t":"Strelka2","p":"10X","k":"a24","v":3.37},{"t":"Strelka2","p":"10X","k":"a13","v":3.51},
{"t":"Strelka2","p":"SMART-seq2","k":"b18","v":3.62},{"t":"Strelka2","p":"SMART-seq2","k":"b03","v":3.8},{"t":"Strelka2","p":"SMART-seq2","k":"b09","v":3.92},{"t":"Strelka2","p":"SMART-seq2","k":"b24","v":3.99},{"t":"Strelka2","p":"SMART-seq2","k":"b13","v":4.04},{"t":"Strelka2","p":"SMART-seq2","k":"b01","v":4.07},{"t":"Strelka2","p":"SMART-seq2","k":"b20","v":4.1},{"t":"Strelka2","p":"SMART-seq2","k":"b07","v":4.12},{"t":"Strelka2","p":"SMART-seq2","k":"b15","v":4.13},{"t":"Strelka2","p":"SMART-seq2","k":"b11","v":4.15},{"t":"Strelka2","p":"SMART-seq2","k":"b22","v":4.16},{"t":"Strelka2","p":"SMART-seq2","k":"b05","v":4.18},{"t":"Strelka2","p":"SMART-seq2","k":"b17","v":4.19},{"t":"Strelka2","p":"SMART-seq2","k":"b02","v":4.21},{"t":"Strelka2","p":"SMART-seq2","k":"b25","v":4.22},{"t":"Strelka2","p":"SMART-seq2","k":"b10","v":4.24},{"t":"Strelka2","p":"SMART-seq2","k":"b14","v":4.25},{"t":"Strelka2","p":"SMART-seq2","k":"b06","v":4.27},{"t":"Strelka2","p":"SMART-seq2","k":"b21","v":4.28},{"t":"Strelka2","p":"SMART-seq2","k":"b12","v":4.31},{"t":"Strelka2","p":"SMART-seq2","k":"b04","v":4.34},{"t":"Strelka2","p":"SMART-seq2","k":"b23","v":4.38},{"t":"Strelka2","p":"SMART-seq2","k":"b08","v":4.43},{"t":"Strelka2","p":"SMART-seq2","k":"b16","v":4.49},{"t":"Strelka2","p":"SMART-seq2","k":"b19","v":4.55},
{"t":"VarScan2","p":"10X","k":"a06","v":0.5},{"t":"VarScan2","p":"10X","k":"a12","v":0.62},{"t":"VarScan2","p":"10X","k":"a21","v":0.75},{"t":"VarScan2","p":"10X","k":"a02","v":0.86},{"t":"VarScan2","p":"10X","k":"a17","v":0.96},{"t":"VarScan2","p":"10X","k":"a09","v":1.05},{"t":"VarScan2","p":"10X","k":"a23","v":1.12},{"t":"VarScan2","p":"10X","k":"a14","v":1.17},{"t":"VarScan2","p":"10X","k":"a04","v":1.22},{"t":"VarScan2","p":"10X","k":"a19","v":1.26},{"t":"VarScan2","p":"10X","k":"a08","v":1.3},{"t":"VarScan2","p":"10X","k":"a16","v":1.34},{"t":"VarScan2","p":"10X","k":"a01","v":1.38},{"t":"VarScan2","p":"10X","k":"a11","v":1.4},{"t":"VarScan2","p":"10X","k":"a20","v":1.43},{"t":"VarScan2","p":"10X","k":"a05","v":1.45},{"t":"VarScan2","p":"10X","k":"a25","v":1.47},{"t":"VarScan2","p":"10X","k":"a10","v":1.5},{"t":"VarScan2","p":"10X","k":"a22","v":1.52},{"t":"VarScan2","p":"10X","k":"a15","v":1.6},{"t":"VarScan2","p":"10X","k":"a03","v":1.7},{"t":"VarScan2","p":"10X","k":"a18","v":1.8},{"t":"VarScan2","p":"10X","k":"a07","v":1.92},{"t":"VarScan2","p":"10X","k":"a24","v":2.05},{"t":"VarScan2","p":"10X","k":"a13","v":2.2},
{"t":"VarScan2","p":"SMART-seq2","k":"b18","v":3.3},{"t":"VarScan2","p":"SMART-seq2","k":"b03","v":3.45},{"t":"VarScan2","p":"SMART-seq2","k":"b09","v":3.57},{"t":"VarScan2","p":"SMART-seq2","k":"b24","v":3.66},{"t":"VarScan2","p":"SMART-seq2","k":"b13","v":3.72},{"t":"VarScan2","p":"SMART-seq2","k":"b01","v":3.76},{"t":"VarScan2","p":"SMART-seq2","k":"b20","v":3.79},{"t":"VarScan2","p":"SMART-seq2","k":"b07","v":3.81},{"t":"VarScan2","p":"SMART-seq2","k":"b15","v":3.83},{"t":"VarScan2","p":"SMART-seq2","k":"b11","v":3.85},{"t":"VarScan2","p":"SMART-seq2","k":"b22","v":3.86},{"t":"VarScan2","p":"SMART-seq2","k":"b05","v":3.88},{"t":"VarScan2","p":"SMART-seq2","k":"b17","v":3.89},{"t":"VarScan2","p":"SMART-seq2","k":"b02","v":3.91},{"t":"VarScan2","p":"SMART-seq2","k":"b25","v":3.93},{"t":"VarScan2","p":"SMART-seq2","k":"b10","v":3.95},{"t":"VarScan2","p":"SMART-seq2","k":"b14","v":3.96},{"t":"VarScan2","p":"SMART-seq2","k":"b06","v":3.98},{"t":"VarScan2","p":"SMART-seq2","k":"b21","v":4.0},{"t":"VarScan2","p":"SMART-seq2","k":"b12","v":4.03},{"t":"VarScan2","p":"SMART-seq2","k":"b04","v":4.07},{"t":"VarScan2","p":"SMART-seq2","k":"b23","v":4.11},{"t":"VarScan2","p":"SMART-seq2","k":"b08","v":4.15},{"t":"VarScan2","p":"SMART-seq2","k":"b16","v":4.2},{"t":"VarScan2","p":"SMART-seq2","k":"b19","v":4.25}
]
},
"hconcat": [
 {"vconcat": [
  {"vconcat": [
   {"width": 308, "height": 165, "data": {"name": "tprA"}, "title": {"text": "a", "offset": -4.6, "dx": 4},
    "encoding": {
     "x": {"field": "d", "type": "quantitative", "scale": {"domain": [-1, 21], "nice": false, "zero": false}, "axis": {"values": [0, 5, 10, 15, 20], "title": "Min read depth"}},
     "y": {"field": "v", "type": "quantitative", "scale": {"domain": [0.055, 1.045], "nice": false, "zero": false}, "axis": {"values": [0.25, 0.5, 0.75, 1], "format": ".2f", "title": "TPR", "titlePadding": -1, "labelPadding": 0}},
     "color": {"field": "tool", "type": "nominal", "scale": {"domain": ["CTAT", "GATK", "SAMtools", "VarScan2", "FreeBayes", "MuTect2", "Strelka2"], "range": ["#E41A1C", "#4DAF4A", "#FF7F00", "#A65628", "#377EB8", "#984EA3", "#FBE83A"]},
      "legend": {"title": null, "orient": "none", "legendX": 37, "legendY": -28.5, "direction": "horizontal", "columns": 4, "columnPadding": 8, "rowPadding": 0, "labelOffset": 3, "symbolType": "M-1,0H1M-0.35,0A0.35,0.35,0,1,1,0.35,0A0.35,0.35,0,1,1,-0.35,0Z", "symbolSize": 100, "symbolStrokeWidth": 1.5}}
    },
    "layer": [{"mark": {"type": "line", "strokeWidth": 1.6}}, {"mark": {"type": "point", "filled": true, "size": 9, "opacity": 1}}]
   },
   {"width": 318, "height": 159, "title": {"text": "C", "fontSize": 20, "offset": 0, "dx": 0},
    "layer": [
     {"data": {"name": "shade"}, "mark": {"type": "rect", "color": "#dedede"},
      "encoding": {"x": {"field": "t", "type": "nominal", "scale": {"domain": ["CTAT", "FreeBayes", "GATK", "MuTect2", "SAMtools", "Strelka2", "VarScan2"], "paddingInner": 0, "paddingOuter": 0.1}, "axis": {"title": null, "labelAngle": -30, "labelAlign": "right", "labelBaseline": "top", "grid": true, "labelFontSize": 13}},
       "y": {"datum": 0.256, "type": "quantitative", "scale": {"domain": [0.256, 5.19], "nice": false, "zero": false}, "axis": {"values": [1, 2, 3, 4, 5], "title": "-Log10 (Number of SNVs)", "titleFontSize": 15, "titlePadding": 8}}, "y2": {"datum": 5.19}}},
     {"data": {"name": "snv"}, "mark": {"type": "boxplot", "extent": 1.5, "size": 15, "outliers": false, "ticks": false, "box": {"stroke": "black", "strokeWidth": 0.8}, "median": {"color": "black", "strokeWidth": 1}, "rule": {"color": "black", "strokeWidth": 0.8}},
      "encoding": {"x": {"field": "t", "type": "nominal"}, "xOffset": {"field": "p", "type": "nominal", "scale": {"paddingOuter": 0.25, "paddingInner": 0.05}},
       "y": {"field": "v", "type": "quantitative", "axis": {"values": [1, 2, 3, 4, 5], "title": "-Log10 (Number of SNVs)", "titleFontSize": 15, "titlePadding": 8}},
       "color": {"field": "p", "type": "nominal", "scale": {"domain": ["10X", "SMART-seq2"], "range": ["#3a9c7b", "#c5622c"]},
        "legend": {"title": null, "orient": "none", "legendX": 101, "legendY": -15, "direction": "horizontal", "columnPadding": 6, "labelOffset": 3, "symbolType": "M-1,-0.7H1V0.7H-1ZM-1,0H1", "symbolSize": 100, "symbolStrokeColor": "black", "symbolStrokeWidth": 0.6}}}},
     {"data": {"name": "snv"}, "mark": {"type": "point", "filled": true, "size": 4, "color": "black", "opacity": 0.9},
      "encoding": {"x": {"field": "t", "type": "nominal"}, "xOffset": {"field": "k", "type": "nominal", "scale": {"paddingOuter": 3, "paddingInner": 0}},
       "y": {"field": "v", "type": "quantitative", "axis": {"values": [1, 2, 3, 4, 5], "title": "-Log10 (Number of SNVs)", "titleFontSize": 15, "titlePadding": 8}}}}
    ],
    "resolve": {"scale": {"xOffset": "independent"}}
   }
  ], "spacing": 1.5, "resolve": {"scale": {"color": "independent"}, "legend": {"color": "independent"}}},
  {"width": 303, "height": 169, "data": {"name": "fdrE"}, "title": {"text": "e", "offset": -21.2, "dx": 1},
   "encoding": {
    "x": {"field": "d", "type": "quantitative", "scale": {"domain": [-1, 21], "nice": false, "zero": false}, "axis": {"values": [0, 5, 10, 15, 20], "title": "Min read depth", "tickSize": 2, "labelPadding": 0, "titlePadding": 1.5}},
    "y": {"field": "v", "type": "quantitative", "scale": {"domain": [-0.00026, 0.00546], "nice": false, "zero": false}, "axis": {"values": [0, 0.001, 0.002, 0.003, 0.004, 0.005], "format": ".3f", "title": "FDR", "titlePadding": -1, "labelPadding": 0}},
    "color": {"field": "tool", "type": "nominal", "scale": {"domain": ["CTAT", "GATK", "SAMtools", "VarScan2", "FreeBayes", "MuTect2", "Strelka2"], "range": ["#E41A1C", "#4DAF4A", "#FF7F00", "#A65628", "#377EB8", "#984EA3", "#FBE83A"]},
     "legend": {"title": null, "orient": "none", "legendX": 32, "legendY": -24.4, "direction": "horizontal", "columns": 4, "columnPadding": 8, "rowPadding": 0, "labelOffset": 3, "symbolType": "M-1,0H1M-0.35,0A0.35,0.35,0,1,1,0.35,0A0.35,0.35,0,1,1,-0.35,0Z", "symbolSize": 100, "symbolStrokeWidth": 1.5}}
   },
   "layer": [{"mark": {"type": "line", "strokeWidth": 1.6}}, {"mark": {"type": "point", "filled": true, "size": 9, "opacity": 1}}]
  }
 ], "spacing": 13.5, "resolve": {"scale": {"color": "independent"}, "legend": {"color": "independent"}}},
 {"concat": [
   {"width": 301, "height": 168, "data": {"name": "fdrB"}, "title": {"text": "b", "offset": -6.3, "dx": 0},
    "encoding": {
     "x": {"field": "d", "type": "quantitative", "scale": {"domain": [-0.5, 10.5], "nice": false, "zero": false}, "axis": {"values": [0, 2, 4, 6, 8, 10], "title": "Min read depth"}},
     "y": {"field": "v", "type": "quantitative", "scale": {"domain": [-0.0002, 0.0042], "nice": false, "zero": false}, "axis": {"values": [0, 0.001, 0.002, 0.003, 0.004], "format": ".3f", "title": "FDR", "labelFontSize": 12.5, "titlePadding": 0.5}},
     "color": {"field": "tool", "type": "nominal", "scale": {"domain": ["CTAT", "GATK", "SAMtools", "VarScan2", "FreeBayes", "MuTect2", "Strelka2"], "range": ["#E41A1C", "#4DAF4A", "#FF7F00", "#A65628", "#377EB8", "#984EA3", "#FBE83A"]},
      "legend": {"title": null, "orient": "none", "legendX": 26, "legendY": -27.2, "direction": "horizontal", "columns": 4, "columnPadding": 8, "rowPadding": 0, "labelOffset": 3, "symbolType": "M-1,0H1M-0.35,0A0.35,0.35,0,1,1,0.35,0A0.35,0.35,0,1,1,-0.35,0Z", "symbolSize": 100, "symbolStrokeWidth": 1.5}}
    },
    "layer": [{"mark": {"type": "line", "strokeWidth": 1.6}}, {"mark": {"type": "point", "filled": true, "size": 9, "opacity": 1}}]
   },
   {"width": 307, "height": 167, "data": {"name": "tprD"}, "title": {"text": "d", "offset": -7, "dx": -1},
    "encoding": {
     "x": {"field": "d", "type": "quantitative", "scale": {"domain": [-1, 21], "nice": false, "zero": false}, "axis": {"values": [0, 5, 10, 15, 20], "title": "Min read depth"}},
     "y": {"field": "v", "type": "quantitative", "scale": {"domain": [-0.05, 1.05], "nice": false, "zero": false}, "axis": {"values": [0, 0.25, 0.5, 0.75, 1], "format": ".2f", "title": "TPR", "titlePadding": 4}},
     "color": {"field": "tool", "type": "nominal", "scale": {"domain": ["CTAT", "GATK", "SAMtools", "VarScan2", "FreeBayes", "MuTect2", "Strelka2"], "range": ["#E41A1C", "#4DAF4A", "#FF7F00", "#A65628", "#377EB8", "#984EA3", "#FBE83A"]},
      "legend": {"title": null, "orient": "none", "legendX": 34, "legendY": -28.8, "direction": "horizontal", "columns": 4, "columnPadding": 8, "rowPadding": 0, "labelOffset": 3, "symbolType": "M-1,0H1M-0.35,0A0.35,0.35,0,1,1,0.35,0A0.35,0.35,0,1,1,-0.35,0Z", "symbolSize": 100, "symbolStrokeWidth": 1.5}}
    },
    "layer": [{"mark": {"type": "line", "strokeWidth": 1.6}}, {"mark": {"type": "point", "filled": true, "size": 9, "opacity": 1}}]
   }
 ], "columns": 1, "align": "none", "spacing": -2, "resolve": {"scale": {"color": "independent"}, "legend": {"color": "independent"}}}
],
"spacing": -13,
"resolve": {"scale": {"color": "independent"}, "legend": {"color": "independent"}}
}
